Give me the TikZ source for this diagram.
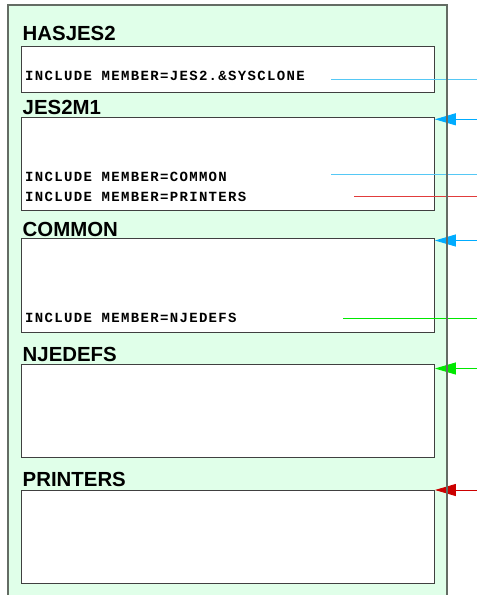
\documentclass[tikz,border=0pt]{standalone}
\usepackage{fontspec}
\usetikzlibrary{arrows.meta,calc}
\newfontfamily\headfont{Liberation Sans}
\newfontfamily\codefont[LetterSpace=9.5]{Liberation Mono}
\definecolor{panelfill}{RGB}{224,255,233}
\definecolor{panelline}{RGB}{100,108,100}
\definecolor{boxline}{RGB}{64,64,64}
\definecolor{lblue}{RGB}{85,200,245}
\definecolor{ablue}{RGB}{0,172,255}
\definecolor{lred}{RGB}{225,60,60}
\definecolor{ared}{RGB}{204,0,0}
\definecolor{lgreen}{RGB}{0,232,0}
\tikzset{
  x=1pt,y=1pt,
  member/.style={draw=boxline,line width=0.9pt,fill=white,anchor=north west,minimum width=413pt,inner sep=0pt},
  head/.style={anchor=base west,inner sep=0pt,font=\headfont\bfseries\fontsize{20.4}{22}\selectfont},
  code/.style={anchor=base west,inner sep=0pt,font=\codefont\bfseries\fontsize{14}{16}\selectfont},
  link/.style={line width=0.9pt},
  inarrow/.style={line width=0.9pt,-{Triangle[length=21pt,width=12pt]}},
}
\begin{document}
\begin{tikzpicture}
\useasboundingbox (0,0) rectangle (477,-595);
\clip (0,0) rectangle (477,-595);
\fill[panelfill] (8,-5) rectangle (447,-605);

\node[head] (hHAS) at (22.5,-40.7) {HASJES2};
\node[member,minimum height=46pt] (hasjes2) at (21,-46) {};
\node[code] (tJES) at (25,-80.7) {INCLUDE MEMBER=JES2.\&SYSCLONE};

\node[head] (hJES) at (22.5,-114.5) {JES2M1};
\node[member,minimum height=93pt] (jes2m1) at (21,-117) {};
\node[code] (tCOM) at (25,-181) {INCLUDE MEMBER=COMMON};
\node[code] (tPRT) at (25,-201.7) {INCLUDE MEMBER=PRINTERS};

\node[head] (hCOM) at (22.5,-236) {COMMON};
\node[member,minimum height=93.4pt] (common) at (21,-238.3) {};
\node[code] (tNJE) at (25,-322.7) {INCLUDE MEMBER=NJEDEFS};

\node[head] (hNJE) at (22.5,-361.7) {NJEDEFS};
\node[member,minimum height=93pt] (njedefs) at (21,-364) {};

\node[head] (hPRT) at (22.5,-486) {PRINTERS};
\node[member,minimum height=92.7pt] (printers) at (21,-490) {};

% outgoing links
\coordinate (oJES) at (331,-79);
\coordinate (eJES) at (477,-79);
\coordinate (oCOM) at (331,-174.3);
\coordinate (eCOM) at (477,-174.3);
\coordinate (oPRT) at (354,-196.7);
\coordinate (ePRT) at (477,-196.7);
\coordinate (oNJE) at (343,-318.3);
\coordinate (eNJE) at (477,-318.3);
\draw[link,lblue] (oJES) -- (eJES);
\draw[link,lblue] (oCOM) -- (eCOM);
\draw[link,lred] (oPRT) -- (ePRT);
\draw[link,lgreen] (oNJE) -- (eNJE);

% incoming arrows
\coordinate (iJES) at (477,-119.3);
\coordinate (iCOM) at (477,-240.5);
\coordinate (iNJE) at (477,-368.5);
\coordinate (iPRT) at (477,-490);
\draw[inarrow,ablue] (iJES) -- (jes2m1.north east |- iJES);
\draw[inarrow,ablue] (iCOM) -- (common.north east |- iCOM);
\draw[inarrow,lgreen] (iNJE) -- (njedefs.north east |- iNJE);
\draw[inarrow,ared] (iPRT) -- (printers.north east |- iPRT);

\draw[panelline,line width=1.4pt] (8,-605) -- (8,-5) -- (447,-5) -- (447,-605);
\end{tikzpicture}
\end{document}
